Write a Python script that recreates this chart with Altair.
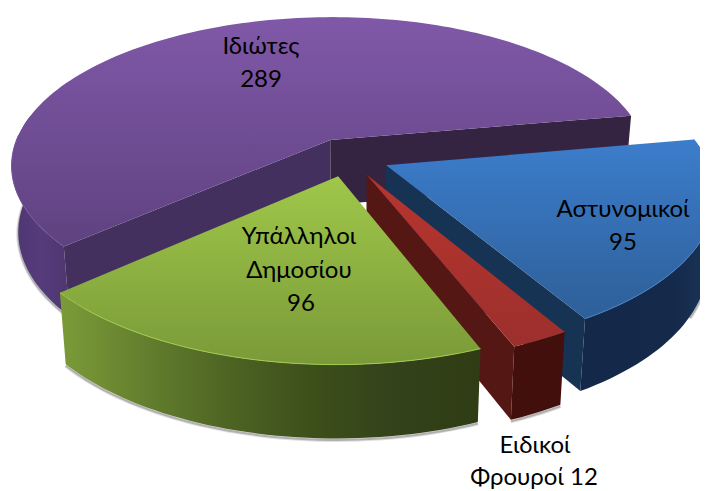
import math
import altair as alt
import pandas as pd

# ---- chart data ----
names = ["Ιδιώτες", "Αστυνομικοί", "Ειδικοί Φρουροί", "Υπάλληλοι Δημοσίου"]
values = [289, 95, 12, 96]

# ---- layout of the tilted pie ----
START_DEG = 10.0      # first slice starts here and runs counter-clockwise
EXPLODE = 0.13
CX, CY = 348.0, 157.0
FX, FY, PERSP = 320.0, 149.0, 0.17
STEP = 1.5

def project(X, Y, bottom=False):
    s = 1.0 / (1.0 + PERSP * Y)
    x = CX + FX * X * s
    y = CY - FY * Y * s
    if bottom:
        x = CX + (x - CX) * 0.98
        y = y + 66.0 - 7.0 * Y
    return x, y

total = sum(values)
order_ccw = [0, 3, 2, 1]  # Ιδιώτες, Υπάλληλοι, Ειδικοί, Αστυνομικοί
spans = {}
a = START_DEG
for idx in order_ccw:
    d = values[idx] / total * 360.0
    spans[idx] = (a, a + d)
    a += d

def geom(idx):
    a0, a1 = spans[idx]
    m = math.radians((a0 + a1) / 2)
    ox, oy = EXPLODE * math.cos(m), EXPLODE * math.sin(m)
    def pt(deg, bottom=False):
        r = math.radians(deg)
        return project(ox + math.cos(r), oy + math.sin(r), bottom)
    def apex(bottom=False):
        return project(ox, oy, bottom)
    return pt, apex

def arc(pt, a0, a1, bottom=False):
    n = max(2, int(abs(a1 - a0) / STEP))
    return [pt(a0 + (a1 - a0) * i / n, bottom) for i in range(n + 1)]

X_DOM = [8, 700]
Y_DOM = [491, 8]
xs = alt.Scale(domain=X_DOM, zero=False, nice=False)
ys = alt.Scale(domain=Y_DOM, zero=False, nice=False)

def vgrad(c0, c1):
    return alt.Gradient(gradient="linear", x1=0, y1=0, x2=0, y2=1,
                        stops=[alt.GradientStop(offset=0, color=c0),
                               alt.GradientStop(offset=1, color=c1)])

def hgrad(*cols):
    n = len(cols) - 1
    return alt.Gradient(gradient="linear", x1=0, y1=0, x2=1, y2=0,
                        stops=[alt.GradientStop(offset=i / n, color=c) for i, c in enumerate(cols)])

def enc(pts):
    df = pd.DataFrame({"x": [p[0] for p in pts], "y": [p[1] for p in pts], "i": range(len(pts))})
    return alt.Chart(df), dict(
        x=alt.X("x:Q", scale=xs, axis=None),
        y=alt.Y("y:Q", scale=ys, axis=None),
        order=alt.Order("i:Q"),
    )

def poly(pts, fill):
    pts = list(pts) + [pts[0]]
    c, e = enc(pts)
    return c.mark_line(fill=fill, stroke="transparent", strokeWidth=0, clip=False).encode(**e)

def rim(pts, color, width=1.5, opacity=1.0):
    c, e = enc(pts)
    return c.mark_line(stroke=color, strokeWidth=width, opacity=opacity, clip=False).encode(**e)

layers = []

# soft ground shadow under the lower rims
for idx, (a0, a1) in {0: (178, 224), 3: spans[3], 2: spans[2], 1: (spans[1][0] + 30, spans[1][1])}.items():
    pt, _ = geom(idx)
    low = arc(pt, a0, a1, True)
    low = [(x, y + 1.5) for x, y in low]
    layers.append(rim(low, "#555555", 4, 0.18))
    layers.append(rim(low, "#555555", 2, 0.35))

# Ιδιώτες (purple)
pt, apex = geom(0)
a0, a1 = spans[0]
layers.append(poly(arc(pt, 170, a1) + arc(pt, a1, 170, True), hgrad("#4f3671", "#553b7b", "#4f3670")))
layers.append(poly([apex(), pt(a1), pt(a1, True), apex(True)], "#44305e"))
layers.append(poly([apex(), pt(a0), pt(a0, True), apex(True)], "#342441"))
layers.append(poly([apex()] + arc(pt, a0, a1), vgrad("#8058a8", "#5f4280")))
layers.append(rim(arc(pt, 178, a1), "#7556a2", 1.0))

# Αστυνομικοί (blue)
pt, apex = geom(1)
a0, a1 = spans[1]
layers.append(poly(arc(pt, a0, a1) + arc(pt, a1, a0, True), hgrad("#14294a", "#14284a", "#15294a", "#1a3558")))
layers.append(poly([apex(), pt(a0), pt(a0, True), apex(True)], "#173354"))
layers.append(poly([apex()] + arc(pt, a0, a1), vgrad("#3c7dcc", "#2e5f98")))
layers.append(rim(arc(pt, a0, a1), "#4583cc", 1.0))

# Ειδικοί Φρουροί (red)
pt, apex = geom(2)
a0, a1 = spans[2]
layers.append(poly(arc(pt, a0, a1) + arc(pt, a1, a0, True), "#420f0d"))
layers.append(poly([apex(), pt(a0), pt(a0, True), apex(True)], "#551714"))
layers.append(poly([apex()] + arc(pt, a0, a1), vgrad("#b8352f", "#9c2f2c")))

# Υπάλληλοι Δημοσίου (green)
pt, apex = geom(3)
a0, a1 = spans[3]
layers.append(poly(arc(pt, a0, a1) + arc(pt, a1, a0, True),
                   hgrad("#7b9b38", "#647f2e", "#4d6423", "#3d4f1a", "#33421a", "#2f3c14")))
layers.append(poly([apex()] + arc(pt, a0, a1), vgrad("#9fc74a", "#7a9a38")))
layers.append(rim(arc(pt, a0, a1), "#a2cb50", 1.0))

# ---- labels ----
label_lines = [
    ("Ιδιώτες", 261, 47), ("289", 261, 80),
    ("Υπάλληλοι", 299, 237), ("Δημοσίου", 299, 271), ("96", 301, 304),
    ("Αστυνομικοί", 623, 210), ("95", 623, 243),
    ("Ειδικοί", 535, 446), ("Φρουροί 12", 534, 478),
]
txt = pd.DataFrame(label_lines, columns=["t", "x", "y"])
layers.append(
    alt.Chart(txt).mark_text(font="Lato", fontSize=24, color="#000000", baseline="middle", align="center")
    .encode(x=alt.X("x:Q", scale=xs, axis=None), y=alt.Y("y:Q", scale=ys, axis=None), text="t:N")
)

chart = alt.layer(*layers).properties(
    width=692, height=483, padding=0, background="white",
    autosize=alt.AutoSizeParams(type="none"),
).configure_view(stroke=None)

chart.save("out.html", embed_options={"renderer": "svg", "actions": False})
